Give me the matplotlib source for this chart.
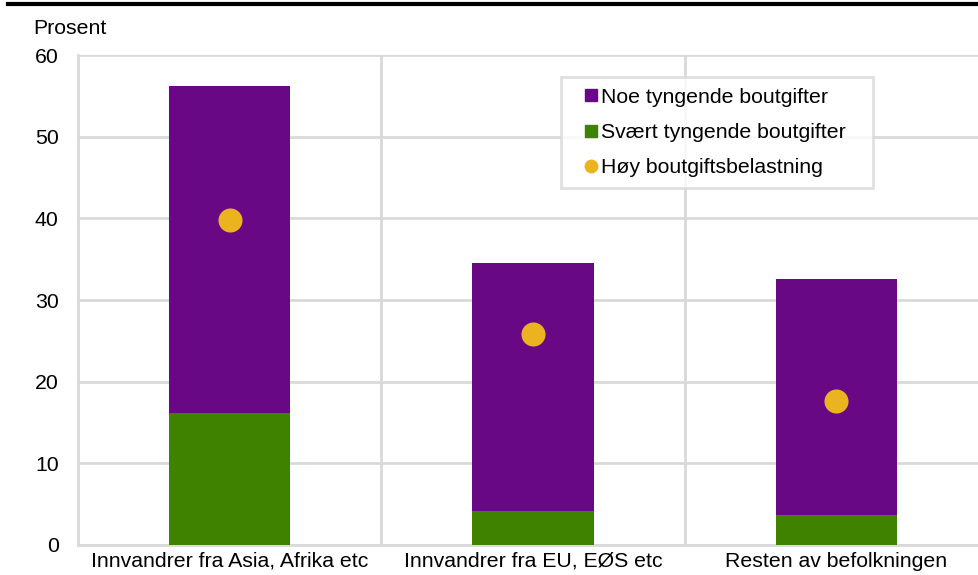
import numpy as np
import matplotlib
matplotlib.use("Agg")
import matplotlib.pyplot as plt
from matplotlib.lines import Line2D

plt.rcParams['font.family'] = ['Liberation Sans', 'DejaVu Sans']

# data
kategorier = ['Innvandrer fra Asia, Afrika etc', 'Innvandrer fra EU, EØS etc', 'Resten av befolkningen']
svaert_tyngende = [16.2, 4.2, 3.7]
noe_tyngende = [40.0, 30.3, 28.9]
hoy_belastning = [39.8, 25.8, 17.6]

lilla = '#690885'
gronn = '#3e8200'
gul = '#ebb320'
grid_farge = '#d9d9d9'
fs = 15.3

fig = plt.figure(figsize=(9.79, 5.75), dpi=100)
ax = fig.add_axes([0.0797, 0.0522, 0.9295, 0.852])

x = np.arange(len(kategorier))
ax.bar(x, svaert_tyngende, width=0.4, color=gronn, zorder=3)
ax.bar(x, noe_tyngende, width=0.4, bottom=svaert_tyngende, color=lilla, zorder=3)
ax.scatter(x, hoy_belastning, s=300, color=gul, zorder=4, linewidths=0)

ax.set_xlim(-0.5, 2.5)
ax.set_ylim(0, 60)
ax.set_yticks(range(0, 61, 10))
ax.set_xticks(x)
ax.set_xticklabels(kategorier)
ax.tick_params(axis='both', length=0, labelsize=fs, colors='black')
ax.tick_params(axis='y', pad=14)
ax.tick_params(axis='x', pad=5)

# gridlines: horizontal at ticks, vertical between categories
ax.set_axisbelow(True)
ax.yaxis.grid(True, color=grid_farge, linewidth=2)
for xv in [0.5, 1.5]:
    ax.axvline(xv, color=grid_farge, linewidth=2, zorder=1)
for side in ['top', 'right']:
    ax.spines[side].set_visible(False)
for side in ['left', 'bottom']:
    ax.spines[side].set_color(grid_farge)
    ax.spines[side].set_linewidth(2)

fig.text(0.034, 0.951, 'Prosent', fontsize=fs, va='center', ha='left')

# black line along the top
fig.add_artist(Line2D([0.008, 1.0], [0.9925, 0.9925], color='black', linewidth=3))

handles = [
    Line2D([], [], marker='s', linestyle='none', color=lilla, markersize=8),
    Line2D([], [], marker='s', linestyle='none', color=gronn, markersize=8),
    Line2D([], [], marker='o', linestyle='none', color=gul, markersize=9),
]
labels = ['Noe tyngende boutgifter', 'Svært tyngende boutgifter', 'Høy boutgiftsbelastning']
leg = ax.legend(handles, labels, loc='upper left', mode='expand',
                bbox_to_anchor=(561 / 979, 1 - 187 / 575, 312 / 979, 110 / 575),
                bbox_transform=fig.transFigure, fontsize=fs, frameon=True, fancybox=False,
                handletextpad=-0.4, handlelength=1.8, labelspacing=0.77, borderpad=0.5,
                borderaxespad=0)
leg.get_frame().set_edgecolor(grid_farge)
leg.get_frame().set_linewidth(2)
leg.set_zorder(5)

fig.savefig('out.png', dpi=100)
